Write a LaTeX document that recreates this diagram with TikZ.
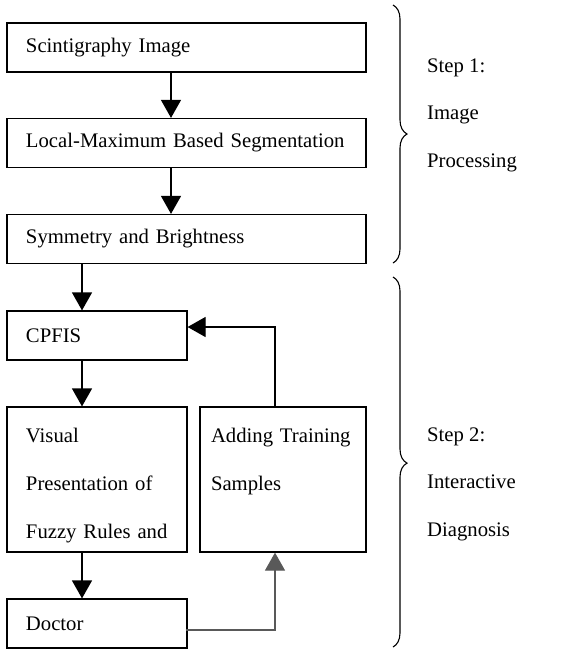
\documentclass[tikz,border=0pt]{standalone}
\usepackage{fontspec}
\setmainfont{Liberation Serif}
\usetikzlibrary{arrows.meta,decorations.pathreplacing}

\begin{document}
\begin{tikzpicture}[x=1pt,y=-1pt,
  box/.style={draw=black,line width=1.2pt,rectangle,minimum height=49pt,inner xsep=19pt,align=left,font=\fontsize{20.7}{48}\selectfont},
  arr/.style={line width=1.2pt,-{Triangle[width=20pt,length=18pt]}},
  brc/.style={decorate,decoration={brace,amplitude=14pt},line width=1.1pt},
  lbl/.style={inner sep=0pt,anchor=west,align=left,font=\fontsize{20.7}{47.5}\selectfont}]
\useasboundingbox (0,0) rectangle (564,649);
\node[box,minimum width=359pt,text width=321pt] (img) at (186.5,47.5) {Scintigraphy Image};
\node[box,minimum width=359pt,text width=321pt] (seg) at (186.5,143) {Local-Maximum Based Segmentation};
\node[box,minimum width=359pt,text width=321pt] (sym) at (186.5,239) {Symmetry and Brightness};
\node[box,minimum width=180pt,text width=142pt] (cpfis) at (97,335.5) {CPFIS};
\node[box,minimum width=180pt,minimum height=145pt,text width=142pt] (visual) at (97,479.5) {\rule{0pt}{27pt}Visual\\Presentation of\\Fuzzy Rules and};
\node[box,minimum width=166pt,minimum height=145pt,text width=144pt,inner xsep=11pt] (adding) at (283,479.5) {\rule{0pt}{27pt}Adding Training\\Samples\\\vphantom{Fy}};
\node[box,minimum width=180pt,text width=142pt] (doctor) at (97,623.5) {Doctor};
\node[lbl] (step1) at (427,115) {Step 1:\\Image\\Processing};
\node[lbl] (step2) at (427,484) {Step 2:\\Interactive\\Diagnosis};
\coordinate (b1t) at (393,5);
\coordinate (b1b) at (393,263);
\coordinate (b2t) at (393,277);
\coordinate (b2b) at (393,647);
\draw[brc] (b1t) -- (b1b);
\draw[brc,decoration={aspect=0.503}] (b2t) -- (b2b);
\draw[arr] ([xshift=-15.5pt]img.south) -- ([xshift=-15.5pt]seg.north);
\draw[arr] ([xshift=-15.5pt]seg.south) -- ([xshift=-15.5pt]sym.north);
\draw[arr] ([xshift=-15pt]cpfis.north |- sym.south) -- ([xshift=-15pt]cpfis.north);
\draw[arr] ([xshift=-15pt]cpfis.south) -- ([xshift=-15pt]visual.north);
\draw[arr] ([xshift=-15pt]visual.south) -- ([xshift=-15pt]doctor.north);
\draw[arr] ([xshift=-8pt]adding.north) |- ([yshift=8.5pt]cpfis.east);
\draw[arr,draw=black!65] ([yshift=-6.5pt,xshift=-2pt]doctor.east) -| ([xshift=-8pt]adding.south);
\end{tikzpicture}
\end{document}
